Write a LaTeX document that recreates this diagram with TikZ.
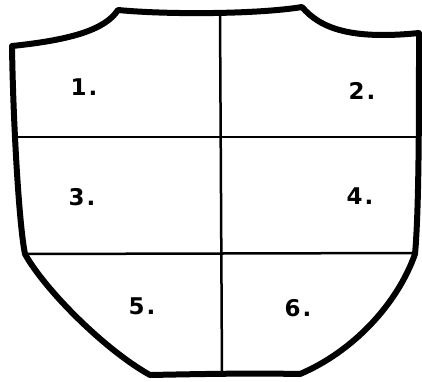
\documentclass[tikz,border=0pt]{standalone}
\usepackage{fontspec}
\setmainfont{DejaVu Sans}
\begin{document}
\begin{tikzpicture}[x=1pt,y=-1pt,
  outline/.style={line width=6pt,line join=round,line cap=round},
  divider/.style={line width=2.5pt},
  lbl/.style={font=\fontsize{23}{23}\selectfont\bfseries,inner sep=0pt}]
\useasboundingbox (0,0) rectangle (422,381);
% key points
\coordinate (tl) at (12,46);
\coordinate (nl) at (118,10);
\coordinate (nr) at (302,7);
\coordinate (tr) at (419,33);
\coordinate (mr) at (415,254);
\coordinate (br) at (300,374);
\coordinate (bl) at (150,375);
\coordinate (ml) at (25,254);
% dividers
\coordinate (vt) at (220,13);
\coordinate (vb) at (222,375);
\coordinate (h1l) at (14,137);
\coordinate (h1r) at (419,137);
\coordinate (h2l) at (25,254);
\coordinate (h2r) at (415,253);
\draw[divider] (vt) -- (vb);
\draw[divider] (h1l) -- (h1r);
\draw[divider] (h2l) -- (h2r);
% shield outline
\draw[outline] (tl) .. controls (70,40) and (105,30) .. (nl)
  .. controls (170,15) and (260,14) .. (nr)
  .. controls (320,28) and (350,40) .. (tr)
  .. controls (419,120) and (419,210) .. (mr)
  .. controls (397,305) and (352,352) .. (br)
  .. controls (250,373) and (200,374) .. (bl)
  .. controls (105,350) and (45,290) .. (ml)
  .. controls (19,225) and (13,120) .. cycle;
% labels
\node[lbl] (l1) at (84,87) {1\kern2pt.};
\node[lbl] (l2) at (362,91) {2\kern2pt.};
\node[lbl] (l3) at (82,197) {3\kern2pt.};
\node[lbl] (l4) at (360,196) {4\kern2pt.};
\node[lbl] (l5) at (142,306) {5\kern2pt.};
\node[lbl] (l6) at (298,308) {6\kern2pt.};
\end{tikzpicture}
\end{document}
